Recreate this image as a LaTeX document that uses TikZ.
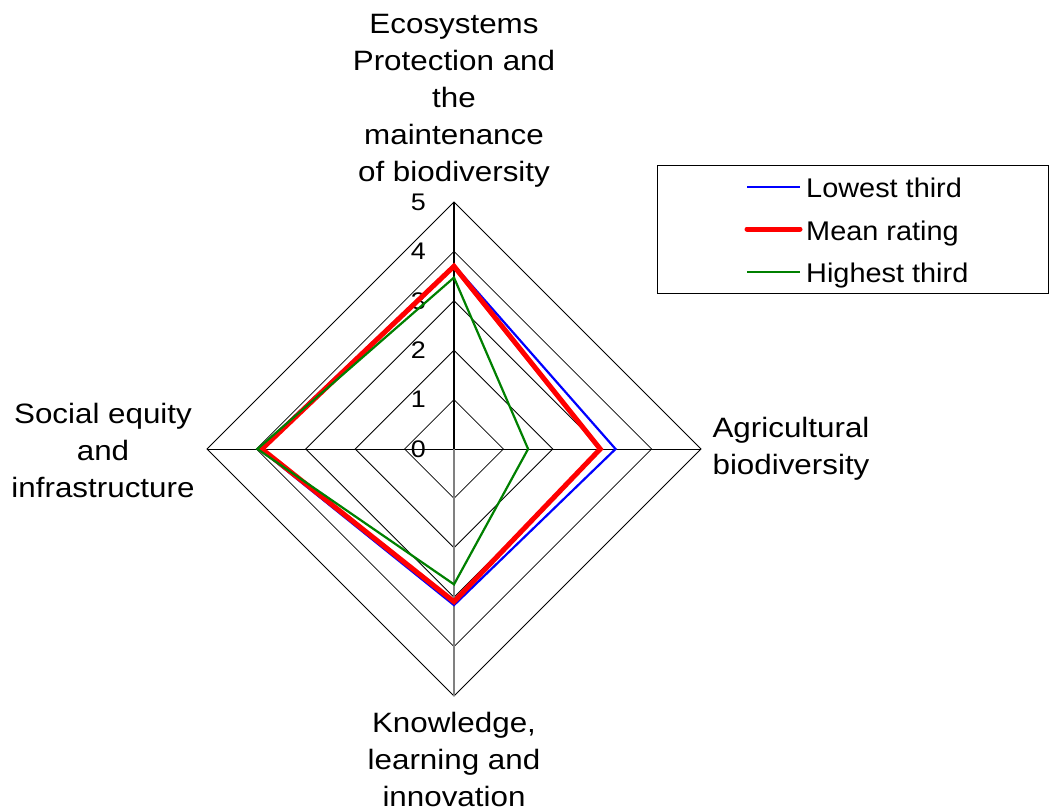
\documentclass[tikz,border=0pt]{standalone}
\usepackage{fontspec}
\setmainfont[FakeStretch=1.12]{Liberation Sans}
\newfontfamily\legfont[FakeStretch=1.07]{Liberation Sans}
\begin{document}
\begin{tikzpicture}[x=1pt,y=-1pt,
  gridline/.style={draw=black, line width=0.8pt},
  axisup/.style={draw=black, line width=1.6pt},
  axisdown/.style={draw=gray, line width=1.6pt},
  lowline/.style={draw=blue, line width=2.2pt, line join=miter},
  meanline/.style={draw=red, line width=5pt, line join=miter},
  highline/.style={draw=green!50!black, line width=2.2pt, line join=miter},
  catlabel/.style={font=\fontsize{28}{37}\selectfont, align=center, inner sep=0pt, anchor=north},
  ticklabel/.style={font=\fontsize{24}{28}\selectfont, inner sep=0pt, anchor=east},
  legtext/.style={font=\legfont\fontsize{27}{30}\selectfont, inner sep=0pt, anchor=base west},
  legbox/.style={draw=black, line width=0.8pt}]
\useasboundingbox (0,0) rectangle (1049,811);
\def\cx{454}\def\cy{449}\def\u{49.4}
\coordinate (C) at (\cx,\cy);
% grid diamonds
\foreach \r in {1,...,5}{
  \draw[gridline] (\cx,{\cy-\r*\u}) -- ({\cx+\r*\u},\cy) -- (\cx,{\cy+\r*\u}) -- ({\cx-\r*\u},\cy) -- cycle;
}
% axes
\coordinate (T) at (\cx,{\cy-5*\u});
\coordinate (B) at (\cx,{\cy+5*\u});
\coordinate (L) at ({\cx-5*\u},\cy);
\coordinate (R) at ({\cx+5*\u},\cy);
\draw[gridline] (L) -- (R);
\draw[axisdown] (C) -- (B);
\draw[axisup] (C) -- (T);
% tick labels
\foreach \r in {0,...,5}{
  \node[ticklabel] (tick\r) at (426,{\cy-\r*\u}) {\r};
}
% series
\draw[lowline] (\cx,{\cy-3.72*\u}) -- ({\cx+3.27*\u},\cy) -- (\cx,{\cy+3.16*\u}) -- ({\cx-3.93*\u},\cy) -- cycle;
\draw[meanline] (\cx,{\cy-3.70*\u}) -- ({\cx+2.96*\u},\cy) -- (\cx,{\cy+3.09*\u}) -- ({\cx-3.89*\u},\cy) -- cycle;
\draw[highline] (\cx,{\cy-3.47*\u}) -- ({\cx+1.50*\u},\cy) -- (\cx,{\cy+2.74*\u}) -- ({\cx-3.98*\u},\cy) -- cycle;
% category labels
\node[catlabel] (ltop) at (454,14) {Ecosystems\\Protection and\\the\\maintenance\\of biodiversity};
\node[catlabel] (lright) at (791,417) {Agricultural\\biodiversity};
\node[catlabel] (lbottom) at (454,712) {Knowledge,\\learning and\\innovation};
\node[catlabel] (lleft) at (103,403) {Social equity\\and\\infrastructure};
% legend
\draw[legbox] (657,165) rectangle (1048,293);
\coordinate (la1) at (747,186.7); \coordinate (lb1) at (800,186.7);
\coordinate (la2) at (747,229);   \coordinate (lb2) at (800,229);
\coordinate (la3) at (747,271.7); \coordinate (lb3) at (800,271.7);
\draw[lowline] (la1) -- (lb1);
\draw[meanline, line cap=round] (la2) -- (lb2);
\draw[highline] (la3) -- (lb3);
\node[legtext] (leg1) at (806,197.3) {Lowest third};
\node[legtext] (leg2) at (806,240) {Mean rating};
\node[legtext] (leg3) at (806,282.7) {Highest third};
\end{tikzpicture}
\end{document}
